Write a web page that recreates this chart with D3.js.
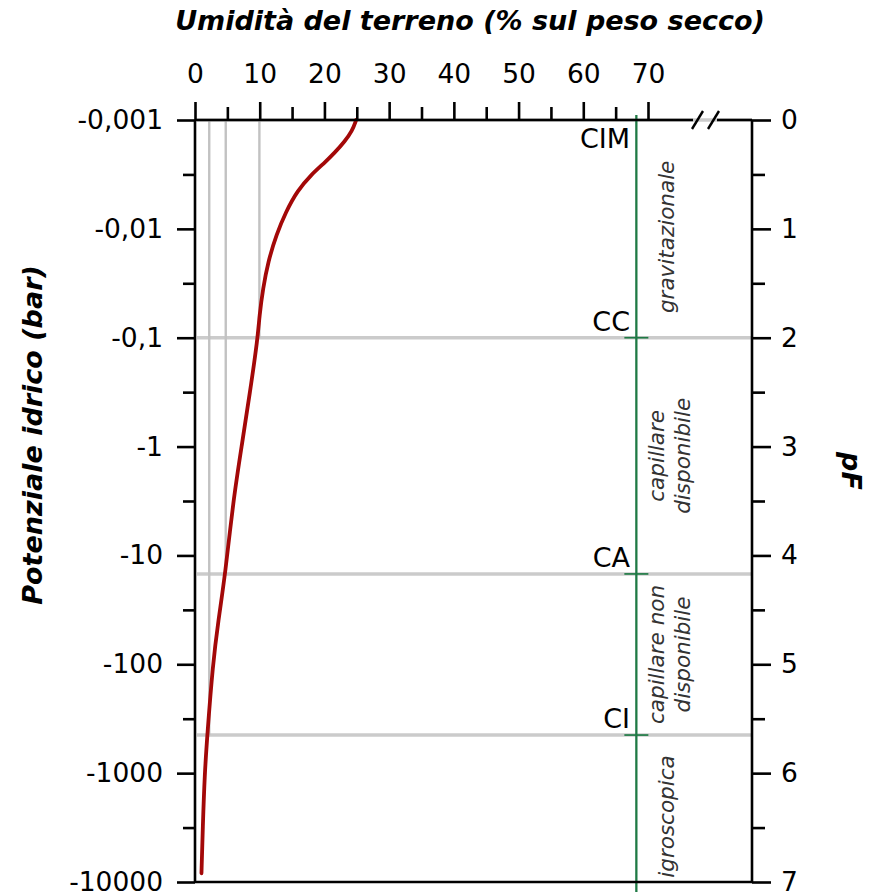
<!DOCTYPE html>
<html lang="it">
<head>
<meta charset="utf-8">
<title>Umidità del terreno e potenziale idrico</title>
<script src="https://cdnjs.cloudflare.com/ajax/libs/d3/7.8.5/d3.min.js"></script>
<style>
  body { margin: 0; background: #fff; }
  svg { display: block; font-family: "DejaVu Sans", sans-serif; }
  .axis text { font-size: 26.5px; fill: #000; }
  .axis line { stroke: #000; stroke-width: 2.6; }
</style>
</head>
<body>
<svg id="chart" width="871" height="892"></svg>
<script>
// curve: moisture (% dry weight) read at given pF values
const curvePF       = [0, 0.1, 0.2, 0.3, 0.4, 0.5, 0.65, 0.85, 1.05, 1.3, 1.55, 1.8, 2.0, 2.5, 3.0, 3.5, 4.16, 4.6, 5.0, 5.65, 6.0, 6.5, 6.92];
const curveMoisture = [24.9, 24.3, 23.1, 21.6, 19.9, 18.0, 15.8, 14.0, 12.6, 11.3, 10.5, 9.95, 9.7, 8.5, 7.2, 5.9, 4.7, 3.6, 2.75, 1.9, 1.5, 1.2, 1.0];

const xTicks = [0, 10, 20, 30, 40, 50, 60, 70];
const xMinor = [5, 15, 25, 35, 45, 55, 65];
const potentialTicks  = [0.001, 0.01, 0.1, 1, 10, 100, 1000, 10000];
const potentialLabels = ["-0,001", "-0,01", "-0,1", "-1", "-10", "-100", "-1000", "-10000"];
const pfTicks = [0, 1, 2, 3, 4, 5, 6, 7];
const pfMinor = [0.5, 1.5, 2.5, 3.5, 4.5, 5.5, 6.5];

const thresholdNames    = ["CIM", "CC", "CA", "CI"];
const thresholdPF       = [0, 2, 4.17, 5.65];
const thresholdMoisture = [25, 9.95, 4.75, 2.2];
const saturation = 68.2;

const zoneNames = [["gravitazionale"], ["capillare", "disponibile"], ["capillare non", "disponibile"], ["igroscopica"]];

const svg = d3.select("#chart");
const plotL = 195, plotR = 752, plotT = 120, plotB = 882;

const x = d3.scaleLinear().domain([0, 70]).range([plotL, 648]);
const y = d3.scaleLinear().domain([0, 7]).range([plotT, plotB]);          // pF
const yBar = d3.scaleLog().domain([0.001, 10000]).range([plotT, plotB]);  // |potential| in bar

// gray reference lines
const grid = svg.append("g").attr("stroke", "#cbcbcb");
grid.selectAll("line.h")
  .data(thresholdPF)
  .join("line")
  .attr("x1", plotL + 2).attr("x2", plotR)
  .attr("y1", d => y(d)).attr("y2", d => y(d))
  .attr("stroke-width", 3.4);
grid.selectAll("line.v")
  .data(thresholdPF.slice(1))
  .join("line")
  .attr("x1", (d, i) => x(thresholdMoisture[i + 1]))
  .attr("x2", (d, i) => x(thresholdMoisture[i + 1]))
  .attr("y1", plotT).attr("y2", d => y(d))
  .attr("stroke", "#c2c2c2")
  .attr("stroke-width", 2.4);

// green saturation line with small ticks
const green = svg.append("g").attr("stroke", "#1f7a45").attr("stroke-width", 2.3);
green.append("line")
  .attr("x1", x(saturation)).attr("x2", x(saturation))
  .attr("y1", plotT - 5).attr("y2", 892);
green.selectAll("line.t")
  .data(thresholdPF.concat([7]))
  .join("line")
  .attr("x1", x(saturation) - 12).attr("x2", x(saturation) + 12)
  .attr("y1", d => y(d)).attr("y2", d => y(d))
  .attr("stroke-width", 1.7);

// threshold labels
svg.append("g")
  .selectAll("text")
  .data(thresholdNames)
  .join("text")
  .attr("x", 630)
  .attr("y", (d, i) => i === 0 ? y(thresholdPF[i]) + 28 : y(thresholdPF[i]) - 7)
  .attr("text-anchor", "end")
  .attr("font-size", 27)
  .text(d => d);

// zone labels
const zoneBounds = thresholdPF.concat([7]);
const zones = svg.append("g")
  .attr("font-style", "italic")
  .attr("font-size", 21.5)
  .attr("fill", "#333");
zoneNames.forEach((lines, i) => {
  const cy = (y(zoneBounds[i]) + y(zoneBounds[i + 1])) / 2 + (lines.length === 1 ? 8 : 0);
  const xs = lines.length === 1 ? [674] : [664, 690];
  lines.forEach((t, j) => {
    zones.append("text")
      .attr("transform", `translate(${xs[j]},${cy}) rotate(-90)`)
      .attr("text-anchor", "middle")
      .text(t);
  });
});

// retention curve
const pts = curvePF.map((p, i) => [x(curveMoisture[i]), y(p)]);
svg.append("path")
  .attr("d", d3.line().curve(d3.curveBasis)(pts))
  .attr("fill", "none")
  .attr("stroke", "#a30808")
  .attr("stroke-width", 3.8)
  .attr("stroke-linecap", "round");

// axes
const frame = svg.append("g").attr("stroke", "#000").attr("stroke-width", 2.6);
frame.append("line").attr("x1", plotL).attr("x2", plotL).attr("y1", plotT).attr("y2", plotB);
frame.append("line").attr("x1", plotR).attr("x2", plotR).attr("y1", plotT).attr("y2", plotB);
frame.append("line").attr("x1", plotL).attr("x2", 693).attr("y1", plotT).attr("y2", plotT);
frame.append("line").attr("x1", 717).attr("x2", plotR).attr("y1", plotT).attr("y2", plotT);
frame.append("line").attr("x1", plotL).attr("x2", plotR).attr("y1", plotB).attr("y2", plotB);
// axis break marks
frame.selectAll("line.brk")
  .data([697, 713])
  .join("line")
  .attr("x1", d => d - 5).attr("x2", d => d + 6)
  .attr("y1", plotT + 9).attr("y2", plotT - 9)
  .attr("stroke-width", 2.4);

svg.append("g").attr("class", "axis")
  .attr("transform", `translate(0,${plotT})`)
  .call(d3.axisTop(x).tickValues(xTicks).tickSize(18).tickPadding(19))
  .call(g => g.select(".domain").remove());
svg.append("g").attr("class", "axis")
  .attr("transform", `translate(0,${plotT})`)
  .call(d3.axisTop(x).tickValues(xMinor).tickSize(13).tickFormat(""))
  .call(g => g.select(".domain").remove());

svg.append("g").attr("class", "axis")
  .attr("transform", `translate(${plotL},0)`)
  .call(d3.axisLeft(yBar).tickValues(potentialTicks).tickSize(18).tickPadding(14)
    .tickFormat((d, i) => potentialLabels[i]))
  .call(g => g.select(".domain").remove());
svg.append("g").attr("class", "axis")
  .attr("transform", `translate(${plotL},0)`)
  .call(d3.axisLeft(y).tickValues(pfMinor).tickSize(12).tickFormat(""))
  .call(g => g.select(".domain").remove());

svg.append("g").attr("class", "axis")
  .attr("transform", `translate(${plotR},0)`)
  .call(d3.axisRight(y).tickValues(pfTicks).tickSize(19).tickPadding(10).tickFormat(d3.format("d")))
  .call(g => g.select(".domain").remove());
svg.append("g").attr("class", "axis")
  .attr("transform", `translate(${plotR},0)`)
  .call(d3.axisRight(y).tickValues(pfMinor).tickSize(13).tickFormat(""))
  .call(g => g.select(".domain").remove());

svg.selectAll(".axis text").attr("font-family", "DejaVu Sans");

// titles
const titleStyle = s => s.attr("font-weight", "bold").attr("font-style", "italic").attr("font-size", 27);
svg.append("text")
  .attr("x", 470).attr("y", 30)
  .attr("text-anchor", "middle")
  .call(titleStyle)
  .text("Umidità del terreno (% sul peso secco)");
svg.append("text")
  .attr("transform", `translate(42,${(plotT + plotB) / 2 - 66}) rotate(-90)`)
  .attr("text-anchor", "middle")
  .call(titleStyle)
  .text("Potenziale idrico (bar)");
svg.append("text")
  .attr("transform", `translate(842,${(plotT + plotB) / 2 - 30}) rotate(90)`)
  .attr("text-anchor", "middle")
  .call(titleStyle)
  .text("pF");
</script>
</body>
</html>
